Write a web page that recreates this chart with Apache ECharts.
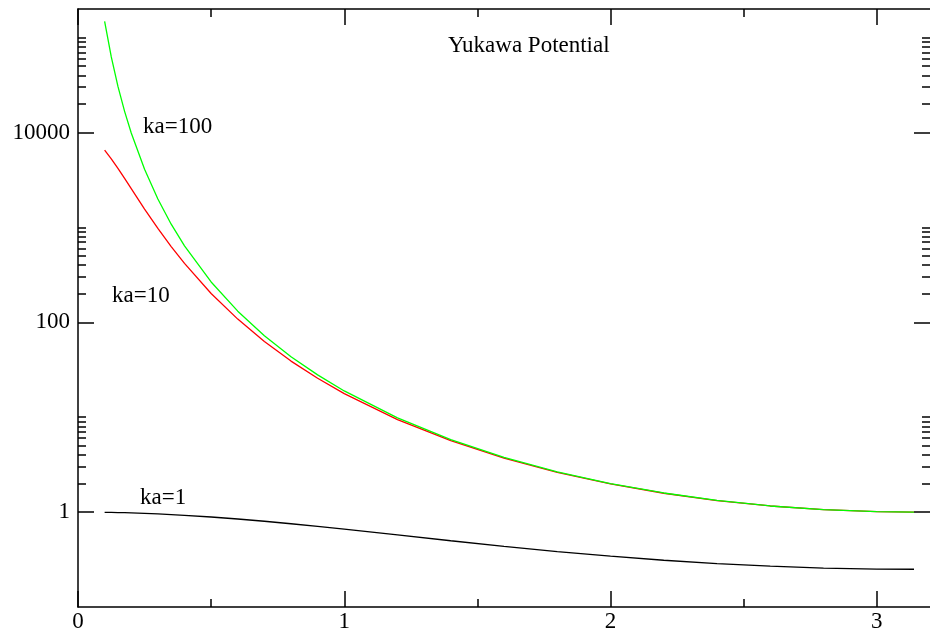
<!DOCTYPE html>
<html>
<head>
<meta charset="utf-8">
<script src="https://cdn.jsdelivr.net/npm/echarts@6/dist/echarts.min.js"></script>
<style>
  html, body { margin: 0; padding: 0; background: #fff; }
  #chart { width: 930px; height: 640px; }
</style>
</head>
<body>
<div id="chart"></div>
<script>
// scattering angle (rad) and relative values
const angles = [0.1, 0.125, 0.15, 0.175, 0.2, 0.25, 0.3, 0.35, 0.4, 0.5, 0.6, 0.7, 0.8, 0.9, 1.0,
  1.2, 1.4, 1.6, 1.8, 2.0, 2.2, 2.4, 2.6, 2.8, 3.0, 3.14]
const ka100 = [148000, 62500, 30600, 16700, 9870, 4090, 1990, 1080, 639, 266, 131, 72.2, 43.4, 27.9, 18.9,
  9.83, 5.80, 3.78, 2.66, 1.99, 1.59, 1.33, 1.16, 1.06, 1.01, 1.00]
const ka10 = [6530, 5280, 4180, 3280, 2560, 1560, 976, 628, 417, 201, 108, 62.7, 39.0, 25.7, 17.7,
  9.44, 5.65, 3.71, 2.62, 1.98, 1.58, 1.32, 1.16, 1.06, 1.01, 1.00]
const ka1 = [0.995, 0.992, 0.989, 0.985, 0.980, 0.970, 0.957, 0.942, 0.925, 0.888, 0.846, 0.801, 0.754, 0.707, 0.661,
  0.575, 0.499, 0.436, 0.384, 0.343, 0.311, 0.286, 0.269, 0.257, 0.251, 0.250]

const xMajor = [0, 1, 2, 3]
const xMinor = [0.5, 1.5, 2.5]
const yMajor = [1, 100, 10000]
const yMinor = [2, 3, 4, 5, 6, 7, 8, 9, 10,
  200, 300, 400, 500, 600, 700, 800, 900, 1000,
  20000, 30000, 40000, 50000, 60000, 70000, 80000, 90000, 100000]

const FONT = 'Liberation Serif'
const line = { color: '#000', width: 1.5 }

function xAx(position, ticks, len, labels, showLine) {
  return {
    type: 'value', position: position, min: 0, max: 3.2,
    axisLine: { show: showLine, onZero: false, lineStyle: line },
    axisTick: { show: true, inside: true, length: len, customValues: ticks, lineStyle: line },
    axisLabel: labels ? {
      show: true, customValues: labels, margin: 3, color: '#000',
      fontFamily: FONT, fontSize: 23, formatter: v => String(v)
    } : { show: false },
    splitLine: { show: false }, minorTick: { show: false }
  }
}
function yAx(position, ticks, len, labels, showLine) {
  return {
    type: 'log', logBase: 10, position: position, min: 0.1, max: 200000,
    axisLine: { show: showLine, onZero: false, lineStyle: line },
    axisTick: { show: true, inside: true, length: len, customValues: ticks, lineStyle: line },
    axisLabel: labels ? {
      show: true, customValues: labels, margin: 8, color: '#000',
      fontFamily: FONT, fontSize: 23, formatter: v => String(v)
    } : { show: false },
    splitLine: { show: false }, minorTick: { show: false }
  }
}

const pairs = vals => angles.map((a, i) => [a, vals[i]])
const curve = (name, vals, color) => ({
  name: name, type: 'line', data: pairs(vals), xAxisIndex: 0, yAxisIndex: 0,
  showSymbol: false, symbol: 'none', smooth: false,
  lineStyle: { color: color, width: 1.3 }, itemStyle: { color: color }
})

const label = (text, left, top) => ({
  type: 'text', left: left, top: top,
  style: { text: text, fill: '#000', font: '23px "' + FONT + '"' }
})

const myChart = echarts.init(document.getElementById('chart'), null, { renderer: 'canvas' })
myChart.setOption({
  animation: false,
  backgroundColor: '#fff',
  grid: { left: 78, right: -2, top: 9, bottom: 33, containLabel: false },
  xAxis: [
    xAx('bottom', xMajor, 16, xMajor, true),
    xAx('bottom', xMinor, 8, null, false),
    xAx('top', xMajor, 16, null, true),
    xAx('top', xMinor, 8, null, false)
  ],
  yAxis: [
    yAx('left', yMajor, 16, yMajor, true),
    yAx('left', yMinor, 8, null, false),
    // right frame edge falls just outside the canvas
    yAx('right', yMajor, 16, null, false),
    yAx('right', yMinor, 8, null, false)
  ],
  series: [
    curve('ka=1', ka1, '#000000'),
    curve('ka=10', ka10, '#ff0000'),
    curve('ka=100', ka100, '#00ff00')
  ],
  graphic: [
    label('Yukawa Potential', 448, 34),
    label('ka=100', 143, 115),
    label('ka=10', 112, 284),
    label('ka=1', 140, 486)
  ]
})
</script>
</body>
</html>
